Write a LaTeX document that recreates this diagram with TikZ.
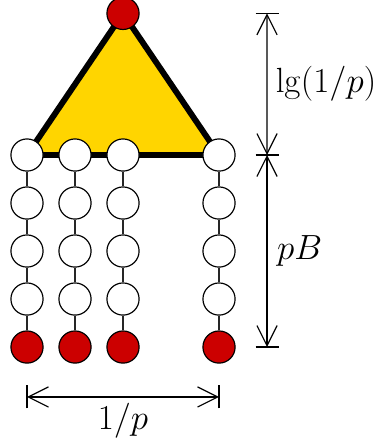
\documentclass[tikz,border=0pt]{standalone}
\usepackage{tikz}
\usetikzlibrary{arrows.meta,backgrounds}
\definecolor{leafred}{RGB}{204,0,0}
\definecolor{treegold}{RGB}{255,213,0}

\begin{document}
\begin{tikzpicture}[
    font=\fontsize{20.5}{24}\selectfont,
    vertex/.style={
        circle,
        draw=black,
        fill=white,
        line width=0.7pt,
        minimum size=0.67cm,
        inner sep=0pt
    },
    leaf/.style={
        vertex,
        fill=leafred
    },
    link/.style={
        line width=1.4pt,
        draw=black!85
    },
    dimline/.style={
        {Straight Barb[length=4.2mm,width=4.2mm]}-{Straight Barb[length=4.2mm,width=4.2mm]},
        line width=0.7pt
    },
    tickmark/.style={
        line width=0.7pt
    }
]
    \useasboundingbox (-0.5625,-6.02) rectangle (7.25,3.229);

    % Nodes
    \node (root) [leaf] at (2,2.95) {};
    \foreach \c in {0,1,2,4} {
        \foreach \r in {0,1,2,3} {
            \node (v\c-\r) [vertex] at (\c,-\r) {};
        }
        \node (v\c-4) [leaf] at (\c,-4) {};
    }

    % Links
    \foreach \c in {0,1,2,4} {
        \foreach \r/\s in {0/1,1/2,2/3,3/4} {
            \draw [link] (v\c-\r) -- (v\c-\s);
        }
    }

    % Triangle behind the nodes
    \begin{scope}[on background layer]
        \draw[line width=3.5pt, fill=treegold, line join=round]
            (root.center) -- (v0-0.center) -- (v4-0.center) -- cycle;
    \end{scope}

    % Dimensions
    \coordinate (dtop) at ([xshift=3cm]root.center);
    \coordinate (dmid) at ([xshift=1cm]v4-0.center);
    \coordinate (dbot) at ([xshift=1cm]v4-4.center);
    \coordinate (wleft)  at ([yshift=-1.04cm]v0-4.center);
    \coordinate (wright) at ([yshift=-1.04cm]v4-4.center);

    \foreach \p in {dtop,dmid,dbot} {
        \draw [tickmark] ([xshift=-0.24cm]\p) -- ([xshift=0.24cm]\p);
    }
    \foreach \p in {wleft,wright} {
        \draw [tickmark] ([yshift=-0.24cm]\p) -- ([yshift=0.24cm]\p);
    }

    \draw [dimline] (dtop) -- node[right, inner sep=0.17cm] (depthlabel) {$\lg(1/p)$} (dmid);
    \draw [dimline] (dmid) -- node[right, inner sep=0.2cm] (blocklabel) {$pB$} (dbot);
    \draw [dimline] (wleft) -- node[below, inner sep=0.12cm] (widthlabel) {$1/p$} (wright);

\end{tikzpicture}
\end{document}
